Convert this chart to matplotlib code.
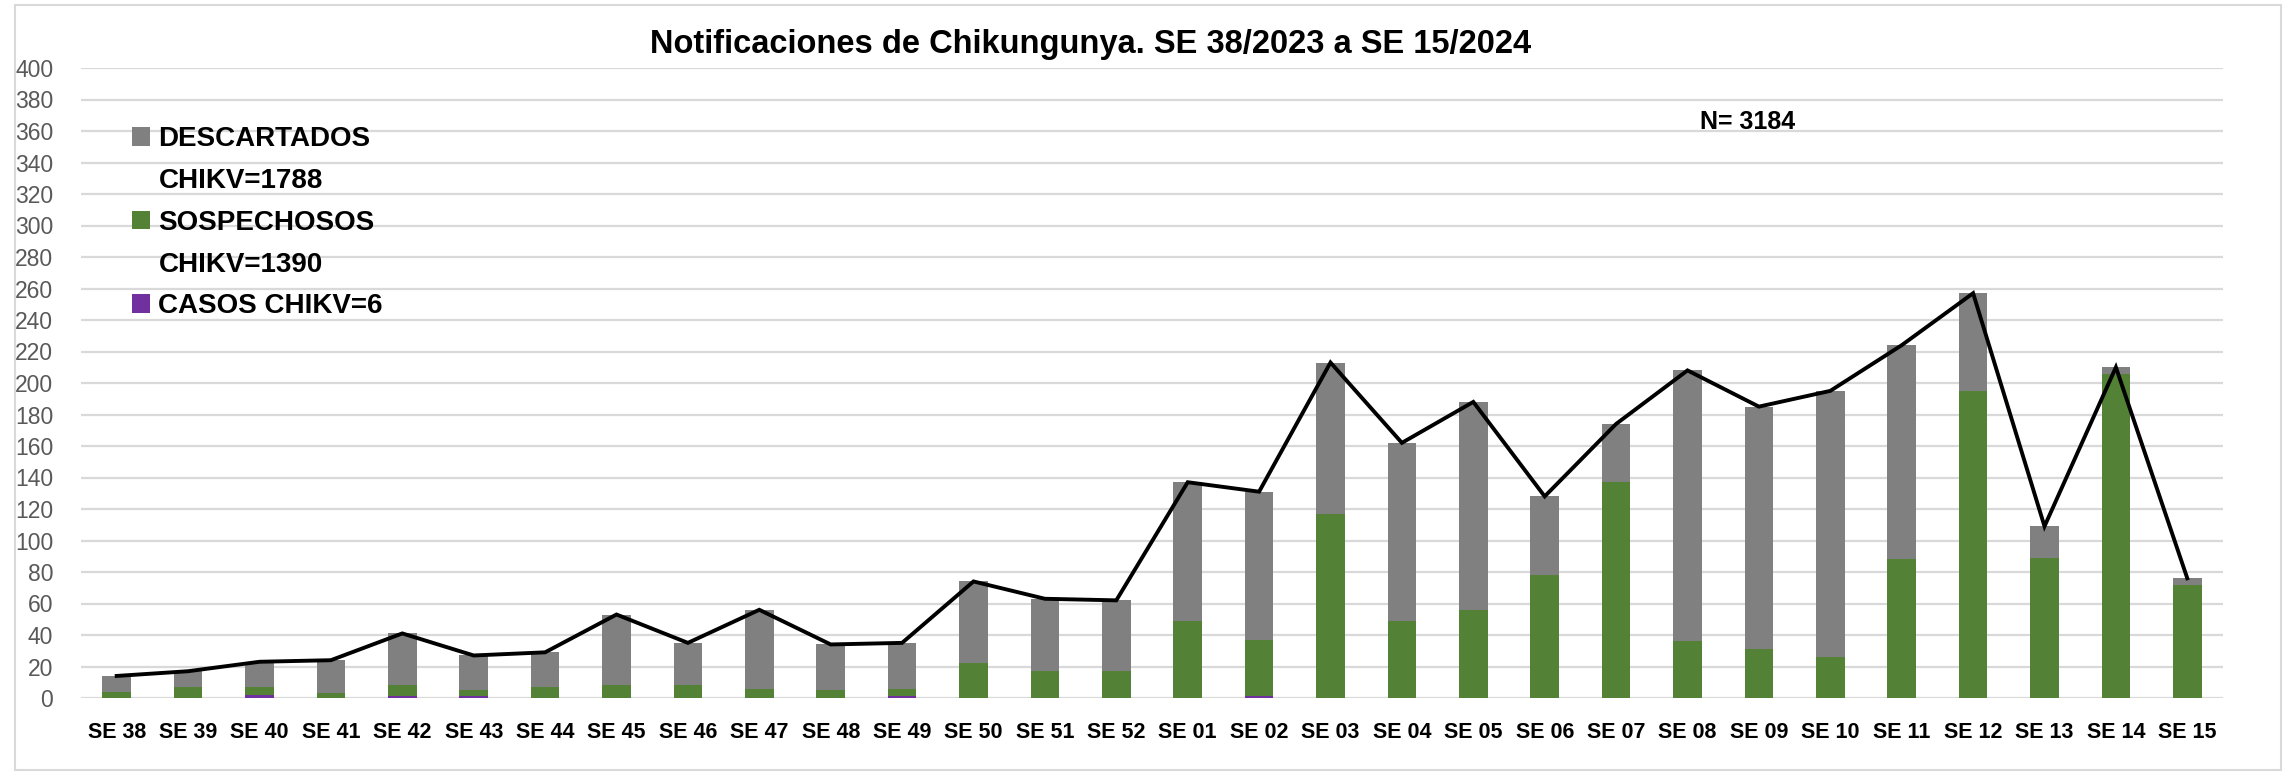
import numpy as np
import matplotlib
matplotlib.use('Agg')
import matplotlib.pyplot as plt
from matplotlib.patches import Rectangle, Patch

plt.rcParams['font.family'] = ['Liberation Sans', 'DejaVu Sans']

semanas = ['SE 38', 'SE 39', 'SE 40', 'SE 41', 'SE 42', 'SE 43', 'SE 44', 'SE 45', 'SE 46', 'SE 47',
           'SE 48', 'SE 49', 'SE 50', 'SE 51', 'SE 52', 'SE 01', 'SE 02', 'SE 03', 'SE 04', 'SE 05',
           'SE 06', 'SE 07', 'SE 08', 'SE 09', 'SE 10', 'SE 11', 'SE 12', 'SE 13', 'SE 14', 'SE 15']
# casos confirmados (morado, abajo)
casos = [0, 0, 2, 0, 1, 1, 0, 0, 0, 0,
         0, 1, 0, 0, 0, 0, 1, 0, 0, 0,
         0, 0, 0, 0, 0, 0, 0, 0, 0, 0]
# sospechosos (verde)
sospechosos = [4, 7, 5, 3, 7, 4, 7, 8, 8, 6,
               5, 5, 22, 17, 17, 49, 36, 117, 49, 56,
               78, 137, 36, 31, 26, 88, 195, 89, 206, 72]
# descartados (gris, arriba)
descartados = [10, 10, 16, 21, 33, 22, 22, 45, 27, 50,
               29, 29, 52, 46, 45, 88, 94, 96, 113, 132,
               50, 37, 172, 154, 169, 136, 62, 20, 4, 4]

yticks = list(range(0, 401, 20))

c_gris = '#808080'
c_verde = '#538135'
c_morado = '#7030A0'
c_grid = '#D9D9D9'

casos = np.array(casos)
sosp = np.array(sospechosos)
desc = np.array(descartados)
total = casos + sosp + desc
x = np.arange(len(semanas))

fig = plt.figure(figsize=(22.85, 7.72), dpi=100)
ax = fig.add_axes([81/2285, 1-698/772, (2223-81)/2285, (698-68)/772])

w = 0.4
b1 = ax.bar(x, casos, w, color=c_morado, zorder=2)
b2 = ax.bar(x, sosp, w, bottom=casos, color=c_verde, zorder=2)
b3 = ax.bar(x, desc, w, bottom=casos + sosp, color=c_gris, zorder=2)
ax.plot(x, total, color='black', lw=2.8, zorder=3, solid_joinstyle='miter')

ax.set_xlim(-0.5, len(semanas) - 0.5)
ax.set_ylim(0, 400)
ax.set_yticks(yticks)
ax.set_yticklabels([str(v) for v in yticks], fontsize=16.5, color='#595959')
ax.set_xticks(x)
ax.set_xticklabels(semanas, fontsize=15.5, fontweight='bold', color='black')
ax.tick_params(axis='y', length=0, pad=20)
ax.tick_params(axis='x', length=0, pad=17)
ax.yaxis.grid(True, color=c_grid, lw=1.6, zorder=0)
ax.set_axisbelow(True)
for s in ax.spines.values():
    s.set_visible(False)

blank = Patch(facecolor='none', edgecolor='none')
leg = ax.legend([b3, blank, b2, blank, b1],
                ['DESCARTADOS', f'CHIKV={desc.sum()}', 'SOSPECHOSOS', f'CHIKV={sosp.sum()}',
                 f'CASOS CHIKV={casos.sum()}'],
                loc='upper left', bbox_to_anchor=(132/2285, 1-126/772), bbox_transform=fig.transFigure,
                frameon=False, handlelength=0.65, handleheight=0.65, handletextpad=0.3,
                labelspacing=0.57, borderaxespad=0, borderpad=0,
                prop={'size': 20, 'weight': 'bold'})

fig.text(1748/2285, 1-122/772, f'N= {total.sum()}', fontsize=18, fontweight='bold',
         ha='center', va='center')
fig.text(1091/2285, 1-45/772, 'Notificaciones de Chikungunya. SE 38/2023 a SE 15/2024',
         fontsize=23.5, fontweight='bold', ha='center', va='center')

fig.patches.append(Rectangle((15/2285, 1-770/772), (2281-15)/2285, (770-5)/772,
                             transform=fig.transFigure, fill=False, edgecolor=c_grid, lw=1.5))

fig.savefig('out.png', dpi=100)
